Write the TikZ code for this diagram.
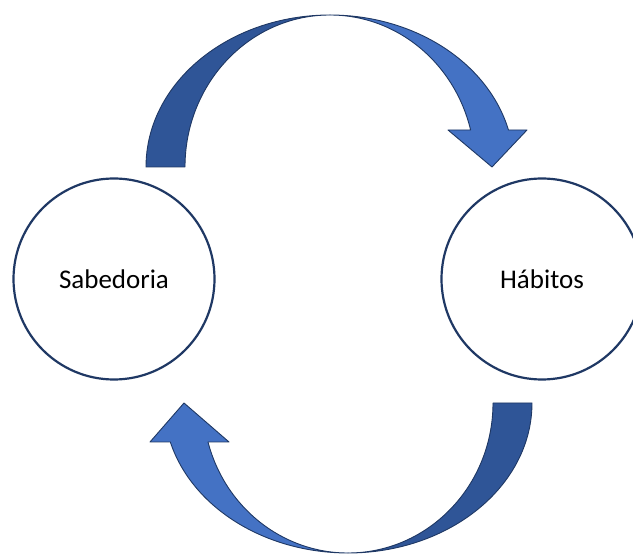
\documentclass[tikz,border=0pt]{standalone}
\usepackage{fontspec}
\setmainfont{Carlito}
\definecolor{lightblue}{HTML}{4472C4}
\definecolor{darkblue}{HTML}{2F5597}
\definecolor{edge}{HTML}{1F3864}
\begin{document}
\begin{tikzpicture}[x=1pt,y=1pt,
  bubble/.style={circle,draw=edge,line width=2.2pt,fill=white,minimum size=201pt,inner sep=0pt,font=\fontsize{27}{32}\selectfont},
  darkband/.style={fill=darkblue,draw=edge,line width=0.9pt,line join=round},
  lightband/.style={fill=lightblue,draw=edge,line width=0.9pt,line join=round}]
\useasboundingbox (0,0) rectangle (633,554);
\clip (0,0) rectangle (633,554);
% top curved arrow
\path[darkband] (146,387) arc[start angle=180,end angle=90,x radius=184,y radius=152]
  arc[start angle=90,end angle=180,x radius=145,y radius=152] -- cycle;
\path[lightband] (330,539) arc[start angle=90,end angle=14.09,x radius=184,y radius=152]
  -- (527,424) -- (492,387) -- (448,424) -- (470.6,424)
  arc[start angle=14.09,end angle=90,x radius=145,y radius=152] -- cycle;
% bottom curved arrow
\path[darkband] (532,151) arc[start angle=0,end angle=-90,x radius=184,y radius=150]
  arc[start angle=-90,end angle=0,x radius=145,y radius=150] -- cycle;
\path[lightband] (348,1) arc[start angle=-90,end angle=-164.93,x radius=184,y radius=150]
  -- (150,112) -- (184,151) -- (229,112) -- (208,112)
  arc[start angle=-164.93,end angle=-90,x radius=145,y radius=150] -- cycle;
% circles
\node[bubble] (sab) at (114,275) {Sabedoria};
\node[bubble] (hab) at (542,275) {Hábitos};
\end{tikzpicture}
\end{document}
